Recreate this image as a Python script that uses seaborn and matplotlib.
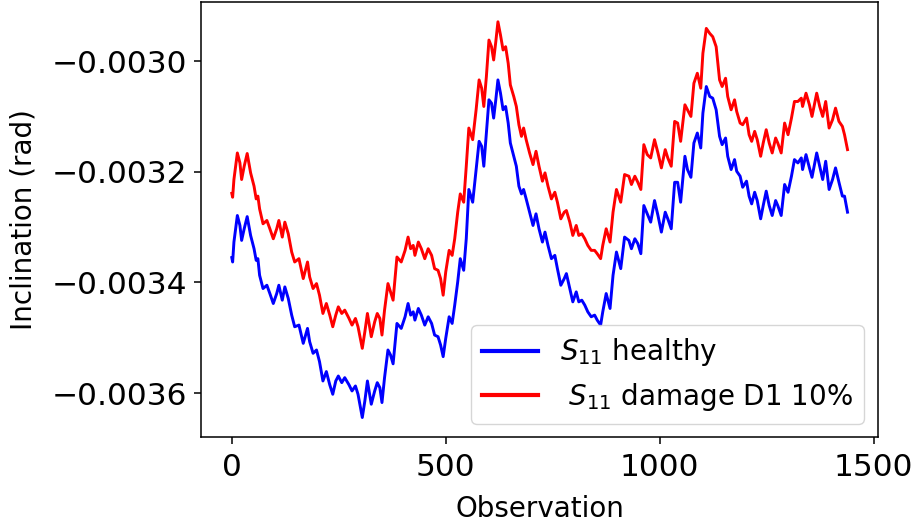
import numpy as np
import pandas as pd
import matplotlib
matplotlib.use("Agg")
import matplotlib.pyplot as plt
import seaborn as sns

# Observation index (x)
observation = [
    0, 2, 5, 13, 19, 23, 29, 36, 44, 52, 57, 61, 65, 73, 82, 89, 97, 105, 110, 118,
    124, 132, 140, 147, 157, 167, 177, 182, 190, 198, 205, 213, 221, 229, 236, 243,
    249, 257, 264, 274, 281, 289, 295, 305, 311, 317, 326, 334, 340, 346, 351, 357,
    365, 371,
    377, 386, 396, 405, 412, 418, 424, 428, 436, 443, 451, 459, 467, 474, 482, 488,
    494, 500, 508, 515, 521, 528, 534, 542, 548, 554, 563, 571, 578, 584, 589, 595,
    601, 607, 612, 617, 622, 628, 634, 640, 646, 651, 659, 665, 671, 677, 682, 688,
    696, 704, 711, 718, 726, 732, 739, 747,
    755, 761, 769, 777, 782, 790, 797, 805, 811, 818, 825, 832, 840, 848, 854, 862,
    867, 875, 884, 891, 899, 909, 918, 928, 934, 942, 949, 956, 963, 971, 979, 988,
    996, 1004, 1013, 1019, 1027, 1035, 1042, 1049, 1059, 1065, 1073, 1080, 1088,
    1096, 1101, 1109, 1117, 1124, 1132, 1140,
    1146, 1154, 1159, 1167, 1175, 1180, 1188, 1194, 1203, 1209, 1215, 1222, 1228,
    1236, 1242, 1249, 1256, 1263, 1271, 1276, 1284, 1292, 1300, 1308, 1315, 1323,
    1331, 1334, 1342, 1350, 1356, 1367, 1374, 1381, 1388, 1396, 1404, 1411, 1419,
    1427, 1432, 1439,
]

# S11 healthy (rad)
healthy = [
    -0.003355, -0.003363, -0.003327, -0.003279, -0.003297, -0.003324, -0.003303, -0.003281,
    -0.003315, -0.003339, -0.003360, -0.003357, -0.003387, -0.003411, -0.003405, -0.003420,
    -0.003438, -0.003420, -0.003405, -0.003432, -0.003408, -0.003429, -0.003459, -0.003480,
    -0.003477, -0.003510, -0.003483, -0.003507, -0.003528, -0.003522, -0.003543, -0.003578,
    -0.003561, -0.003585, -0.003602, -0.003578, -0.003569, -0.003581, -0.003572, -0.003585,
    -0.003596, -0.003587, -0.003602, -0.003644, -0.003614, -0.003578, -0.003620, -0.003596,
    -0.003581, -0.003590, -0.003617, -0.003572, -0.003522, -0.003531,
    -0.003547, -0.003474, -0.003483, -0.003462, -0.003438, -0.003459, -0.003453, -0.003468,
    -0.003447, -0.003459, -0.003477, -0.003462, -0.003474, -0.003495, -0.003498, -0.003513,
    -0.003534, -0.003501, -0.003462, -0.003474, -0.003441, -0.003399, -0.003357, -0.003378,
    -0.003321, -0.003232, -0.003255, -0.003196, -0.003145, -0.003154, -0.003190, -0.003130,
    -0.003070, -0.003076, -0.003103, -0.003070, -0.003034, -0.003058, -0.003088, -0.003082,
    -0.003112, -0.003148, -0.003172, -0.003190, -0.003226, -0.003240, -0.003232, -0.003249,
    -0.003273, -0.003297, -0.003276, -0.003303, -0.003327, -0.003309, -0.003333, -0.003357,
    -0.003351, -0.003375, -0.003405, -0.003393, -0.003384, -0.003411, -0.003435, -0.003417,
    -0.003435, -0.003432, -0.003441, -0.003453, -0.003462, -0.003459, -0.003468, -0.003477,
    -0.003453, -0.003420, -0.003447, -0.003387, -0.003345, -0.003375, -0.003318, -0.003324,
    -0.003339, -0.003321, -0.003330, -0.003348, -0.003261, -0.003276, -0.003291, -0.003252,
    -0.003279, -0.003309, -0.003273, -0.003285, -0.003303, -0.003219, -0.003219, -0.003255,
    -0.003172, -0.003196, -0.003210, -0.003148, -0.003130, -0.003157, -0.003094, -0.003046,
    -0.003064, -0.003067, -0.003088, -0.003136,
    -0.003151, -0.003139, -0.003172, -0.003196, -0.003178, -0.003199, -0.003208, -0.003228,
    -0.003217, -0.003244, -0.003258, -0.003237, -0.003252, -0.003285, -0.003261, -0.003235,
    -0.003261, -0.003279, -0.003252, -0.003261, -0.003279, -0.003223, -0.003237, -0.003208,
    -0.003178, -0.003184, -0.003175, -0.003196, -0.003169, -0.003193, -0.003210, -0.003166,
    -0.003190, -0.003214, -0.003181, -0.003232, -0.003214, -0.003193, -0.003219, -0.003244,
    -0.003244, -0.003273,
]

# S11 damage D1 10% (rad)
damage = [
    -0.003239, -0.003246, -0.003214, -0.003166, -0.003184, -0.003214, -0.003190, -0.003167,
    -0.003202, -0.003226, -0.003249, -0.003244, -0.003267, -0.003294, -0.003288, -0.003303,
    -0.003321, -0.003303, -0.003288, -0.003318, -0.003291, -0.003312, -0.003345, -0.003363,
    -0.003357, -0.003393, -0.003363, -0.003390, -0.003411, -0.003402, -0.003423, -0.003456,
    -0.003438, -0.003459, -0.003480, -0.003459, -0.003444, -0.003456, -0.003450, -0.003465,
    -0.003477, -0.003465, -0.003480, -0.003519, -0.003489, -0.003456, -0.003498, -0.003471,
    -0.003456, -0.003465, -0.003495, -0.003450, -0.003402, -0.003417,
    -0.003432, -0.003354, -0.003363, -0.003342, -0.003318, -0.003339, -0.003333, -0.003351,
    -0.003327, -0.003339, -0.003357, -0.003339, -0.003351, -0.003375, -0.003378, -0.003393,
    -0.003423, -0.003381, -0.003342, -0.003351, -0.003321, -0.003273, -0.003240, -0.003255,
    -0.003190, -0.003121, -0.003142, -0.003088, -0.003034, -0.003049, -0.003082, -0.003028,
    -0.002962, -0.002974, -0.002998, -0.002965, -0.002929, -0.002953, -0.002980, -0.002974,
    -0.003004, -0.003043, -0.003064, -0.003082, -0.003115, -0.003136, -0.003121, -0.003142,
    -0.003166, -0.003187, -0.003163, -0.003190, -0.003217, -0.003202, -0.003226, -0.003249,
    -0.003237, -0.003255, -0.003285, -0.003273, -0.003270, -0.003291, -0.003315, -0.003297,
    -0.003315, -0.003312, -0.003321, -0.003333, -0.003342, -0.003342, -0.003348, -0.003357,
    -0.003333, -0.003303, -0.003327, -0.003273, -0.003232, -0.003255, -0.003205, -0.003208,
    -0.003223, -0.003208, -0.003219, -0.003232, -0.003151, -0.003169, -0.003175, -0.003142,
    -0.003166, -0.003193, -0.003160, -0.003175, -0.003190, -0.003109, -0.003112, -0.003145,
    -0.003079, -0.003088, -0.003100, -0.003040, -0.003022, -0.003049, -0.002986, -0.002941,
    -0.002950, -0.002956, -0.002974, -0.003034,
    -0.003046, -0.003031, -0.003064, -0.003088, -0.003070, -0.003091, -0.003112, -0.003115,
    -0.003103, -0.003133, -0.003145, -0.003127, -0.003142, -0.003172, -0.003148, -0.003124,
    -0.003148, -0.003166, -0.003139, -0.003148, -0.003166, -0.003112, -0.003133, -0.003103,
    -0.003073, -0.003073, -0.003067, -0.003082, -0.003058, -0.003079, -0.003100, -0.003058,
    -0.003082, -0.003100, -0.003073, -0.003121, -0.003106, -0.003085, -0.003109, -0.003118,
    -0.003133, -0.003160,
]

labels = [r"$S_{11}$ healthy", r" $S_{11}$ damage D1 10%"]
colors = ["blue", "red"]

df = pd.concat([
    pd.DataFrame({"Observation": observation, "value": healthy, "series": labels[0]}),
    pd.DataFrame({"Observation": observation, "value": damage, "series": labels[1]}),
], ignore_index=True)

fig = plt.figure(figsize=(9.19, 5.27), dpi=100)
ax = fig.add_axes([201 / 919, 1 - 437.3 / 527, (878.3 - 201) / 919, (437.3 - 2) / 527])

sns.lineplot(data=df, x="Observation", y="value", hue="series",
             palette=dict(zip(labels, colors)), hue_order=labels,
             linewidth=2.1, ax=ax, estimator=None, sort=False)

ax.set_xlabel("Observation", fontsize=20, labelpad=9)
ax.set_ylabel("Inclination (rad)", fontsize=20, labelpad=10)
ax.set_xticks([0, 500, 1000, 1500])
ax.set_yticks([-0.0036, -0.0034, -0.0032, -0.0030])
ax.yaxis.set_major_formatter(matplotlib.ticker.FuncFormatter(lambda v, p: f"{v:.4f}".replace("-", "\u2212")))
ax.tick_params(axis="both", labelsize=22.5, length=5, width=1.1, pad=5, colors="black")
ax.tick_params(axis="x", pad=6.5)
for s in ax.spines.values():
    s.set_linewidth(1.1)
    s.set_color("black")

leg = ax.legend(loc="lower right", fontsize=20, frameon=True,
                bbox_to_anchor=((864 - 201) / 677.3, (437.3 - 424) / 435.3),
                borderaxespad=0, labelspacing=0.45)
leg.get_frame().set_edgecolor("0.8")
for line in leg.get_lines():
    line.set_linewidth(3.0)

fig.savefig("out.png", dpi=100)
